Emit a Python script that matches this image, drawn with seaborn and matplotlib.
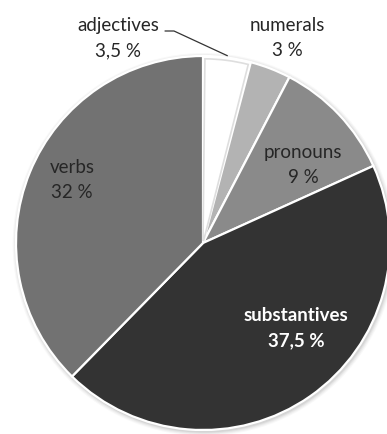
import numpy as np
import matplotlib
matplotlib.use("Agg")
import matplotlib.pyplot as plt
from matplotlib.patches import Circle, Wedge
import seaborn as sns

# Parts of speech and their shares (percent)
categories = ["adjectives", "numerals", "pronouns", "substantives", "verbs"]
shares = [3.5, 3.0, 9.0, 37.5, 32.0]
share_labels = ["3,5 %", "3 %", "9 %", "37,5 %", "32 %"]
colors = ["#ffffff", "#b3b3b3", "#8a8a8a", "#333333", "#727272"]

sns.set_theme(style="white")
plt.rcParams["font.family"] = ["Lato", "DejaVu Sans"]

W, H = 387, 435
fig = plt.figure(figsize=(W / 100, H / 100), dpi=100)
ax = fig.add_axes([0, 0, 1, 1])

R_PX = 187.0
CX, CY = 203.0, 244.0


def px(x, y):
    return (x - CX) / R_PX, (CY - y) / R_PX


# soft shadow around the pie
for r, a in [(1.024, 0.05), (1.018, 0.07), (1.012, 0.10), (1.006, 0.14)]:
    ax.add_patch(Circle((0.006, -0.008), r, color="#808080", alpha=a, lw=0, zorder=0))

wedges, _ = ax.pie(
    shares,
    colors=colors,
    startangle=90,
    counterclock=False,
    radius=1.0,
    wedgeprops=dict(edgecolor="white", linewidth=1.6),
    frame=False,
)
ax.set_xlim(-CX / R_PX, (W - CX) / R_PX)
ax.set_ylim(-(H - CY) / R_PX, CY / R_PX)
ax.set_aspect("auto")
ax.axis("off")

# faint inner rim so the white slice stays visible
w0 = wedges[0]
ax.add_patch(Wedge((0, 0), 0.985, w0.theta1 + 0.6, w0.theta2 - 0.6, width=0.97,
                   facecolor="none", edgecolor="#dedede", lw=1.2, zorder=3))

text_color = "#262626"
label_pos = {
    "adjectives": (118, 38),
    "numerals": (287, 38),
    "pronouns": (303, 165),
    "substantives": (296, 328),
    "verbs": (72, 180),
}

for name, lab in zip(categories, share_labels):
    x, y = px(*label_pos[name])
    if name == "substantives":
        ax.text(x, y, f"{name}\n{lab}", ha="center", va="center", fontsize=13.5,
                color="white", fontweight="bold", linespacing=1.6, zorder=5)
    else:
        ax.text(x, y, f"{name}\n{lab}", ha="center", va="center", fontsize=13.5,
                color=text_color, linespacing=1.6, zorder=5)

# leader line for the small adjectives slice
mid = np.deg2rad((w0.theta1 + w0.theta2) / 2)
tip = (1.01 * np.cos(mid), 1.01 * np.sin(mid))
k1 = px(165, 32)
k2 = px(174, 32)
ax.plot([k1[0], k2[0], tip[0]], [k1[1], k2[1], tip[1]], color="#333333", lw=0.9, zorder=5)

fig.savefig("out.png", dpi=100)
